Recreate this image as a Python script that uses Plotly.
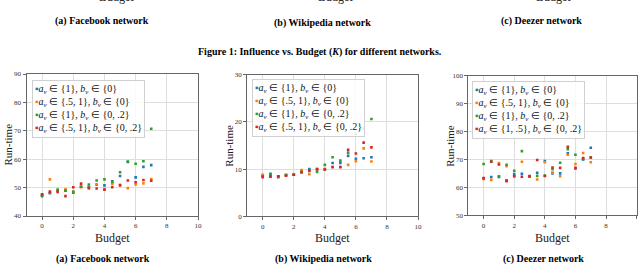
import plotly.graph_objects as go

# ---------------- data ----------------
budget = [0, 0.5, 1, 1.5, 2, 2.5, 3, 3.5, 4, 4.5, 5, 5.5, 6, 6.5, 7]

fb_blue   = [47.0, 48.0, 49.0, 48.9, 48.2, 50.3, 50.3, 51.0, 50.8, 52.2, 54.1, 59.0, 53.6, 57.3, 57.9]
fb_orange = [47.5, 52.9, 48.7, 49.4, 48.5, 50.1, 49.9, 51.2, 49.5, 51.3, 51.0, 49.8, 51.1, 51.5, 53.0]
fb_green  = [47.2, 48.2, 49.3, 49.0, 48.5, 50.3, 51.1, 52.5, 52.9, 52.0, 55.4, 59.2, 58.4, 59.3, 70.7]
fb_red    = [47.6, 48.6, 48.5, 47.0, 50.1, 51.4, 49.8, 49.7, 49.3, 50.1, 50.8, 52.5, 51.9, 52.7, 52.4]

wk_blue   = [8.6, 9.0, 8.4, 8.7, 8.8, 9.6, 10.0, 9.9, 10.0, 11.3, 11.3, 12.8, 12.2, 12.3, 12.5]
wk_orange = [8.8, 8.5, 8.4, 8.7, 8.8, 9.8, 8.9, 10.0, 9.9, 10.5, 10.5, 10.9, 11.7, 14.4, 11.6]
wk_green  = [8.5, 8.7, 8.3, 8.8, 8.8, 9.4, 9.7, 9.4, 10.9, 12.5, 11.8, 13.5, 17.5, 18.6, 20.6]
wk_red    = [8.3, 8.4, 8.5, 8.6, 8.8, 9.3, 9.6, 10.0, 9.9, 10.4, 10.4, 14.1, 13.3, 15.6, 14.6]

dz_blue   = [63.2, 63.7, 63.7, 62.5, 64.7, 64.9, 64.0, 65.2, 69.4, 65.0, 65.0, 72.2, 66.8, 70.0, 74.2]
dz_orange = [63.0, 62.7, 68.7, 67.6, 64.0, 69.2, 63.9, 62.8, 69.0, 65.3, 64.0, 71.7, 68.4, 72.3, 69.0]
dz_green  = [68.4, 69.4, 64.0, 68.1, 65.9, 73.0, 63.8, 64.1, 64.2, 66.5, 68.8, 73.7, 71.7, 70.2, 70.7]
dz_red    = [63.3, 69.2, 68.2, 62.2, 64.0, 63.8, 64.1, 69.8, 64.1, 67.1, 67.0, 74.5, 67.0, 70.5, 70.7]

legend_ab = ["<i>a</i><sub><i>v</i></sub> ∈ {1}, <i>b</i><sub><i>v</i></sub> ∈ {0}",
             "<i>a</i><sub><i>v</i></sub> ∈ {.5, 1}, <i>b</i><sub><i>v</i></sub> ∈ {0}",
             "<i>a</i><sub><i>v</i></sub> ∈ {1}, <i>b</i><sub><i>v</i></sub> ∈ {0, .2}",
             "<i>a</i><sub><i>v</i></sub> ∈ {.5, 1}, <i>b</i><sub><i>v</i></sub> ∈ {0, .2}"]
legend_c = legend_ab[:3] + ["<i>a</i><sub><i>v</i></sub> ∈ {1, .5}, <i>b</i><sub><i>v</i></sub> ∈ {0, .2}"]

colors = ["#1f77b4", "#ff7f0e", "#2ca02c", "#d62728"]

x_ticks = [0, 2, 4, 6, 8, 10]
panels = [
    dict(series=[fb_blue, fb_orange, fb_green, fb_red], yr=[40, 90], yt=[40, 50, 60, 70, 80, 90],
         names=legend_ab, caption="(a) Facebook network"),
    dict(series=[wk_blue, wk_orange, wk_green, wk_red], yr=[0, 30], yt=[0, 10, 20, 30],
         names=legend_ab, caption="(b) Wikipedia network"),
    dict(series=[dz_blue, dz_orange, dz_green, dz_red], yr=[50, 100], yt=[50, 60, 70, 80, 90, 100],
         names=legend_c, caption="(c) Deezer network"),
]

# ---------------- layout helpers ----------------
W, H = 640, 266
def px(x): return x / W
def py(y): return 1 - y / H

boxes = [  # left, right, top, bottom (pixels)
    (26.5, 198.0, 74.0, 216.0),
    (247.2, 418.0, 74.7, 216.3),
    (468.3, 636.7, 75.7, 215.3),
]
leg_pos = [(32, 80), (251.7, 79), (471.7, 80.7)]

FONT = "Liberation Serif"
fig = go.Figure()
annotations = []

def note(text, x, y, size, color="#000", **kw):
    d = dict(text=text, x=px(x), y=py(y), xref="paper", yref="paper", showarrow=False,
             xanchor="center", yanchor="middle", font=dict(family=FONT, size=size, color=color))
    d.update(kw)
    annotations.append(d)

for i, (p, box) in enumerate(zip(panels, boxes)):
    sfx = "" if i == 0 else str(i + 1)
    for s, c, n in zip(p["series"], colors, p["names"]):
        fig.add_trace(go.Scatter(
            x=budget, y=s, mode="markers", name=n, showlegend=False,
            marker=dict(color=c, size=2.6, symbol="square", line=dict(width=0)),
            xaxis="x" + sfx, yaxis="y" + sfx))
    l, r, t, b = box
    axstyle = dict(showline=True, mirror=True, linecolor="#666", linewidth=1,
                   showgrid=True, gridcolor="#dedede", gridwidth=1, zeroline=False,
                   ticks="outside", ticklen=3, tickcolor="#666",
                   tickfont=dict(family=FONT, size=7, color="#333"), automargin=False)
    fig.update_layout(**{
        "xaxis" + sfx: dict(domain=[px(l), px(r)], range=[-1, 10], tickvals=x_ticks,
                            anchor="y" + sfx, **axstyle),
        "yaxis" + sfx: dict(domain=[py(b), py(t)], range=p["yr"], tickvals=p["yt"],
                            anchor="x" + sfx, **axstyle),
    })
    cx = (l + r) / 2
    note("Budget", cx, 237.5, 12, "#222")
    note("Run-time", l - 19, (t + b) / 2, 11, "#222", textangle=-90)
    note("<b>" + p["caption"] + "</b>", cx - 9, 259.3, 10)
    # legend box
    lines = "<br>".join(f"<span style='color:{c}'>▪</span>{n}" for c, n in zip(colors, p["names"]))
    lx, ly = leg_pos[i]
    annotations.append(dict(text=lines, x=px(lx), y=py(ly), xref="paper", yref="paper",
                            xanchor="left", yanchor="top", align="left", showarrow=False,
                            bgcolor="rgba(255,255,255,0.85)", bordercolor="#d0d0d0",
                            borderwidth=1, borderpad=2,
                            font=dict(family=FONT, size=10, color="#111")))

# cut-off row from previous figure at top
top_budget_x = [116, 335, 553]
top_caps = [("(a) Facebook network", 102, 21), ("(b) Wikipedia network", 322, 23), ("(c) Deezer network", 541, 21)]
for bx in top_budget_x:
    note("Budget", bx, -3, 12, "#222")
for txt, cx, cy in top_caps:
    note("<b>" + txt + "</b>", cx, cy, 10)
note("<b>Figure 1: Influence vs. Budget (<i>K</i>) for different networks.</b>", 320, 52, 10)

fig.update_layout(width=W, height=H, margin=dict(l=0, r=0, t=0, b=0, autoexpand=False),
                  paper_bgcolor="white", plot_bgcolor="white",
                  annotations=annotations, showlegend=False)

fig.write_html("out.html", config={"displayModeBar": False},
               post_script="document.body.style.margin='0';document.body.style.overflow='hidden';")
